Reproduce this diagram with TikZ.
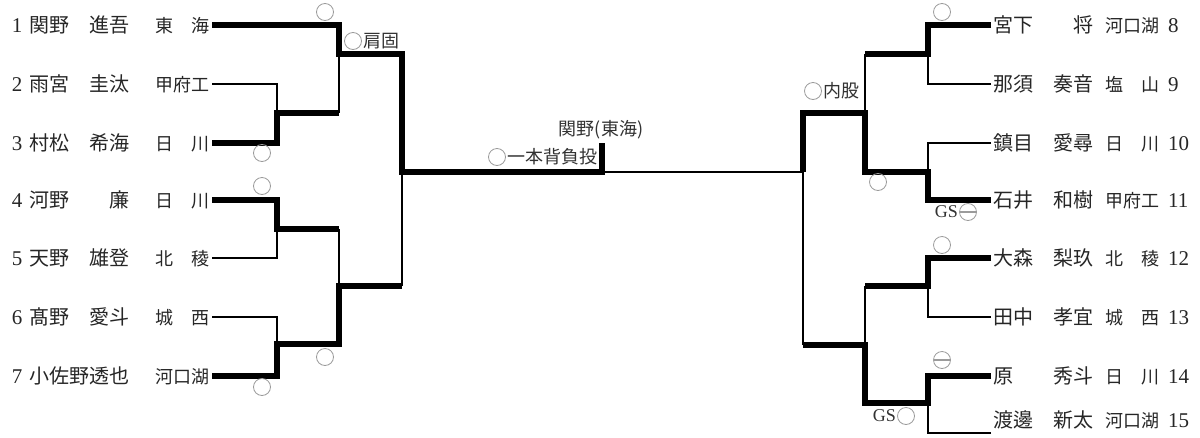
\documentclass[tikz,border=0pt]{standalone}
\usepackage{fontspec}
\setmainfont{Liberation Serif}
\newfontfamily\jp{Noto Sans CJK JP}
\usepackage{tikz}
\usetikzlibrary{positioning}
\definecolor{markgray}{RGB}{155,155,155}
\definecolor{labelgray}{RGB}{50,50,50}
\newcommand{\namefont}{\jp\fontsize{20}{20}\selectfont}
\newcommand{\schoolfont}{\jp\fontsize{18}{18}\selectfont}
\newcommand{\numfont}{\fontsize{21}{21}\selectfont}
\newcommand{\leftentry}[3]{\makebox[18pt][l]{\numfont #1}\makebox[100pt][l]{\namefont #2}\hspace{26pt}\makebox[54pt][l]{\schoolfont #3}}
\newcommand{\rightentry}[3]{\makebox[100pt][l]{\namefont #1}\hspace{12pt}\makebox[54pt][l]{\schoolfont #2}\hspace{9pt}{\numfont #3}}

\begin{document}
\begin{tikzpicture}[x=1pt, y=-1pt,
    pl/.style={anchor=east, inner xsep=2pt, inner ysep=0pt, text height=15pt, text depth=0pt, text=black!85},
    pr/.style={pl, anchor=west},
    win/.style={line width=5.5pt, line join=miter},
    lose/.style={line width=2pt},
    mk/.style={circle, draw=markgray, line width=0.8pt, minimum size=17pt, inner sep=0pt},
    mkm/.style={mk, path picture={\draw[markgray, line width=1.2pt] (path picture bounding box.west) -- (path picture bounding box.east);}},
    lbl/.style={inner sep=0.5pt, font=\jp\fontsize{18}{18}\selectfont, text=labelgray},
    gs/.style={inner sep=1pt, font=\fontsize{18}{18}\selectfont, text=labelgray}
]
\useasboundingbox (0,0) rectangle (1200,437);

% left players
\node[pl] (p1) at (212,25)  {\leftentry{1}{関野　進吾}{東　海}};
\node[pl] (p2) at (212,84)  {\leftentry{2}{雨宮　圭汰}{甲府工}};
\node[pl] (p3) at (212,143) {\leftentry{3}{村松　希海}{日　川}};
\node[pl] (p4) at (212,200) {\leftentry{4}{河野　　廉}{日　川}};
\node[pl] (p5) at (212,258) {\leftentry{5}{天野　雄登}{北　稜}};
\node[pl] (p6) at (212,317) {\leftentry{6}{髙野　愛斗}{城　西}};
\node[pl] (p7) at (212,376) {\leftentry{7}{小佐野透也}{河口湖}};

% right players
\node[pr] (p8)  at (991,25)  {\rightentry{宮下　　将}{河口湖}{8}};
\node[pr] (p9)  at (991,84)  {\rightentry{那須　奏音}{塩　山}{9}};
\node[pr] (p10) at (991,143) {\rightentry{鎮目　愛尋}{日　川}{10}};
\node[pr] (p11) at (991,200) {\rightentry{石井　和樹}{甲府工}{11}};
\node[pr] (p12) at (991,258) {\rightentry{大森　梨玖}{北　稜}{12}};
\node[pr] (p13) at (991,317) {\rightentry{田中　孝宜}{城　西}{13}};
\node[pr] (p14) at (991,376) {\rightentry{原　　秀斗}{日　川}{14}};
\node[pr] (p15) at (991,420) {\rightentry{渡邊　新太}{河口湖}{15}};
\coordinate (e15) at (991,433);

% bracket joints
\coordinate (jL1) at (277,113);
\coordinate (jL2) at (277,229);
\coordinate (jL3) at (277,344);
\coordinate (kL1) at (339,54);
\coordinate (kL2) at (339,286);
\coordinate (sL)  at (402,172);
\coordinate (finT) at (602,143);
\coordinate (fin) at (602,172);
\coordinate (sR)  at (803,172);
\coordinate (kR1) at (865,113);
\coordinate (kR2) at (865,345);
\coordinate (jR1) at (928,54);
\coordinate (jR2) at (928,172);
\coordinate (jR3) at (928,286);
\coordinate (jR4) at (928,403);

% left half
\draw[win] (p1.east) -| (kL1) -| (sL) -| (finT);
\draw[lose] (p2.east) -| (jL1);
\draw[win] (p3.east) -| (jL1) -- (jL1 -| kL1);
\draw[lose] (jL1 -| kL1) -- (kL1);
\draw[win] (p4.east) -| (jL2) -- (jL2 -| kL2);
\draw[lose] (p5.east) -| (jL2);
\draw[lose] (jL2 -| kL2) -- (kL2);
\draw[lose] (p6.east) -| (jL3);
\draw[win] (p7.east) -| (jL3) -| (kL2) -- (kL2 -| sL);
\draw[lose] (kL2 -| sL) -- (sL);

% final
\draw[lose] (fin) -- (sR);

% right half
\draw[win] (p8.west) -| (jR1) -- (jR1 -| kR1);
\draw[lose] (p9.west) -| (jR1);
\draw[lose] (jR1 -| kR1) -- (kR1);
\draw[lose] (p10.west) -| (jR2);
\draw[win] (p11.west) -| (jR2) -| (kR1) -| (sR);
\draw[win] (p12.west) -| (jR3) -- (jR3 -| kR2);
\draw[lose] (p13.west) -| (jR3);
\draw[lose] (jR3 -| kR2) -- (kR2);
\draw[win] (p14.west) -| (jR4) -| (kR2) -- (kR2 -| sR);
\draw[lose] (e15) -| (jR4);
\draw[lose] (kR2 -| sR) -- (sR);

% marks, left
\node[mk] (m1) at (325,12) {};
\node[mk] (m2) at (353,41) {};
\node[lbl, right=0.5pt of m2] (t2) {肩固};
\node[mk] (m3) at (262,153) {};
\node[mk] (m4) at (262,186) {};
\node[mk] (m5) at (325,357) {};
\node[mk] (m6) at (262,387) {};

% final result
\node[lbl] (champ) at (601,130) {関野(東海)};
\node[mk] (m7) at (497,157) {};
\node[lbl, right=0.5pt of m7] (t7) {一本背負投};

% marks, right
\node[mk] (m8) at (942,12) {};
\node[mk] (m9) at (813,91) {};
\node[lbl, right=0.5pt of m9] (t9) {内股};
\node[mk] (m10) at (878,182) {};
\node[mkm] (m11) at (968,212) {};
\node[gs, left=0pt of m11] (g11) {GS};
\node[mk] (m12) at (942,245) {};
\node[mkm] (m13) at (942,360) {};
\node[mk] (m14) at (906,416) {};
\node[gs, left=0pt of m14] (g14) {GS};
\end{tikzpicture}
\end{document}
